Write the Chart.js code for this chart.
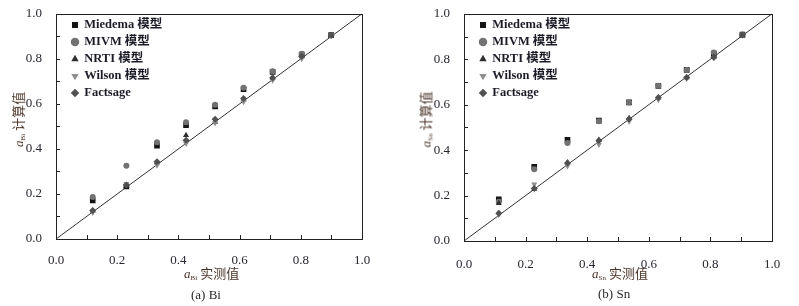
<!DOCTYPE html>
<html>
<head>
<meta charset="utf-8">
<script src="https://cdn.jsdelivr.net/npm/chart.js@4.4.1/dist/chart.umd.min.js"></script>
<style>
  body { margin: 0; background: #fff; }
  #wrap { position: relative; width: 799px; height: 306px; overflow: hidden; }
  canvas { position: absolute; top: 0; }
  .lbl { position: absolute; font-family: "Noto Sans CJK SC", "Liberation Serif", serif; color: #4a3428; font-size: 13px; white-space: nowrap; }
  .lbl i { font-family: "Liberation Serif", serif; font-size: 13px; }
  .lbl sub { font-family: "Liberation Serif", serif; font-size: 7px; vertical-align: -2px; margin-right: 3px; }
  .cap { position: absolute; font-family: "Liberation Serif", serif; color: #2a2a2a; font-size: 13px; white-space: nowrap; }
</style>
</head>
<body>
<div id="wrap">
  <canvas id="bi-chart" width="400" height="306" style="left:0"></canvas>
  <canvas id="sn-chart" width="399" height="306" style="left:400px"></canvas>

  <div class="lbl" style="left:184px; top:263px;"><i>a</i><sub>Bi</sub>实测值</div>
  <div class="lbl" style="left:592px; top:263px;"><i>a</i><sub>Sn</sub>实测值</div>
  <div class="lbl" style="left:-10px; top:110px; transform: rotate(-90deg);"><i>a</i><sub>Bi</sub>计算值</div>
  <div class="lbl" style="left:397px; top:110px; transform: rotate(-90deg);"><i>a</i><sub>Sn</sub>计算值</div>
  <div class="cap" style="left:191px; top:287px;">(a) Bi</div>
  <div class="cap" style="left:598px; top:286px;">(b) Sn</div>
</div>

<script>
// measured activities (x) for each panel
const xBi = [0.12, 0.23, 0.33, 0.425, 0.52, 0.613, 0.708, 0.803, 0.899];
const xSn = [0.113, 0.228, 0.336, 0.438, 0.536, 0.631, 0.723, 0.811, 0.904];

// calculated activities, Bi panel
const biMiedema = [0.171, 0.233, 0.414, 0.505, 0.589, 0.665, 0.742, 0.819, 0.905];
const biMIVM    = [0.186, 0.325, 0.43, 0.518, 0.596, 0.672, 0.745, 0.823, 0.905];
const biNRTI    = [0.125, 0.235, 0.34, 0.461, 0.52, 0.62, 0.715, 0.81, 0.905];
const biWilson  = [0.118, 0.245, 0.328, 0.424, 0.515, 0.61, 0.705, 0.8, 0.902];
const biFact    = [0.127, 0.24, 0.343, 0.439, 0.532, 0.624, 0.716, 0.811, 0.905];

// calculated activities, Sn panel
const snMiedema = [0.183, 0.326, 0.445, 0.53, 0.61, 0.683, 0.753, 0.825, 0.908];
const snMIVM    = [0.173, 0.316, 0.431, 0.527, 0.61, 0.683, 0.753, 0.83, 0.908];
const snNRTI    = [0.166, 0.229, 0.345, 0.445, 0.54, 0.63, 0.72, 0.81, 0.905];
const snWilson  = [0.115, 0.25, 0.33, 0.425, 0.527, 0.622, 0.715, 0.805, 0.905];
const snFact    = [0.122, 0.231, 0.343, 0.442, 0.537, 0.632, 0.72, 0.809, 0.908];

const diagonal = [{x: 0, y: 0}, {x: 1, y: 1}];

// model name, marker, colour
const models = [
  {name: 'Miedema 模型', style: 'rect', rot: 0, size: 4, color: '#141414'},
  {name: 'MIVM 模型', style: 'circle', rot: 0, size: 3, color: '#727272'},
  {name: 'NRTI 模型', style: 'triangle', rot: 0, size: 3.5, color: '#2e2e2e'},
  {name: 'Wilson 模型', style: 'triangle', rot: 180, size: 3.5, color: '#8e8e8e'},
  {name: 'Factsage', style: 'rectRot', rot: 0, size: 3.5, color: '#505050'}
];

function pairs(xs, ys) {
  return xs.map((x, i) => ({x: x, y: ys[i]}));
}

// box round the plot, inward tick marks, legend pinned to the plot's top-left
const framePlugin = {
  id: 'frame',
  afterUpdate(chart) {
    const lg = chart.legend;
    const a = chart.chartArea;
    if (!lg) return;
    lg.left = a.left + 11.5;
    lg.right = a.right;
    lg.top = a.top + 0.5;
    lg.bottom = a.bottom;
  },
  afterDraw(chart) {
    const ctx = chart.ctx;
    const a = chart.chartArea;
    const sx = chart.scales.x, sy = chart.scales.y;
    ctx.save();
    ctx.strokeStyle = '#222';
    ctx.lineWidth = 1;
    ctx.strokeRect(Math.round(a.left) + 0.5, Math.round(a.top) + 0.5, Math.round(a.right - a.left), Math.round(a.bottom - a.top));
    ctx.beginPath();
    sx.ticks.forEach(t => {
      const px = Math.round(sx.getPixelForValue(t.value)) + 0.5;
      ctx.moveTo(px, a.bottom);
      ctx.lineTo(px, a.bottom - 4);
    });
    sy.ticks.forEach(t => {
      const py = Math.round(sy.getPixelForValue(t.value)) + 0.5;
      ctx.moveTo(a.left, py);
      ctx.lineTo(a.left + 4, py);
    });
    ctx.stroke();
    ctx.restore();
  }
};

function makeChart(canvasId, xs, series, box) {
  const datasets = models.map((m, i) => ({
    type: 'scatter',
    label: m.name,
    data: pairs(xs, series[i]),
    pointStyle: m.style,
    rotation: m.rot,
    pointRadius: m.size,
    pointBackgroundColor: m.color,
    pointBorderColor: m.color,
    backgroundColor: m.color,
    borderColor: m.color,
    borderWidth: 0,
    order: 5 - i
  }));
  datasets.push({
    type: 'line',
    label: 'y=x',
    data: diagonal,
    borderColor: '#333',
    borderWidth: 1,
    pointRadius: 0,
    order: 10
  });

  const tickFont = {family: '"Liberation Serif", "Times New Roman", serif', size: 13};
  const showEven = (v, i) => (i % 2 === 0 ? Number(v).toFixed(1) : '');

  return new Chart(document.getElementById(canvasId).getContext('2d'), {
    type: 'scatter',
    data: {datasets: datasets},
    options: {
      responsive: false,
      animation: false,
      layout: {padding: {top: box.top, right: box.right, left: 0, bottom: 0}},
      plugins: {
        tooltip: {enabled: false},
        legend: {
          position: 'chartArea',
          align: 'start',
          labels: {
            usePointStyle: true,
            boxWidth: 6,
            boxHeight: 6,
            padding: 4.5,
            color: '#1c1c28',
            font: {family: '"Liberation Serif", "Noto Sans CJK SC", serif', size: 12.5, weight: 'bold'},
            filter: item => item.text !== 'y=x',
            sort: (a, b) => a.datasetIndex - b.datasetIndex
          }
        }
      },
      scales: {
        x: {
          type: 'linear', min: 0, max: 1,
          grid: {display: false},
          border: {display: false},
          ticks: {stepSize: 0.1, autoSkip: false, maxRotation: 0, padding: box.xPad, color: '#2a2630', font: tickFont, callback: showEven},
          afterFit(scale) { scale.height = box.xHeight; }
        },
        y: {
          type: 'linear', min: 0, max: 1,
          grid: {display: false},
          border: {display: false},
          ticks: {stepSize: 0.1, autoSkip: false, padding: 6, color: '#2a2630', font: tickFont, callback: showEven},
          afterFit(scale) { scale.width = box.yWidth; }
        }
      }
    },
    plugins: [framePlugin]
  });
}

makeChart('bi-chart', xBi, [biMiedema, biMIVM, biNRTI, biWilson, biFact],
  {top: 12, right: 38, yWidth: 56, xHeight: 67, xPad: 6});
makeChart('sn-chart', xSn, [snMiedema, snMIVM, snNRTI, snWilson, snFact],
  {top: 12, right: 27, yWidth: 64, xHeight: 65, xPad: 8});
</script>
</body>
</html>
